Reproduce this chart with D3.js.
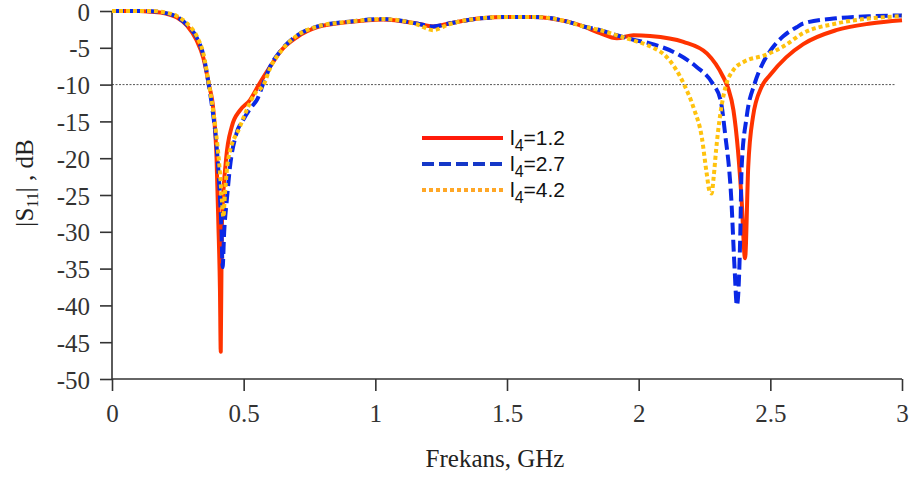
<!DOCTYPE html>
<html>
<head>
<meta charset="utf-8">
<script src="https://cdn.jsdelivr.net/npm/d3@7/dist/d3.min.js"></script>
<style>
  html, body { margin: 0; padding: 0; background: #fff; }
  svg { display: block; }
</style>
</head>
<body>
<svg id="chart" width="916" height="477"></svg>
<script>
// ---- data ----
const xTicks = [0, 0.5, 1, 1.5, 2, 2.5, 3];
const xTickLabels = ["0", "0.5", "1", "1.5", "2", "2.5", "3"];
const yTicks = [0, -5, -10, -15, -20, -25, -30, -35, -40, -45, -50];
const yTickLabels = ["0", "-5", "-10", "-15", "-20", "-25", "-30", "-35", "-40", "-45", "-50"];
const seriesNames = ["1.2", "2.7", "4.2"];

const freqRed = [0, 0.1, 0.15, 0.2, 0.247, 0.285, 0.32, 0.347, 0.368, 0.385, 0.397, 0.404, 0.41, 0.413, 0.417, 0.433, 0.455, 0.486, 0.524, 0.558, 0.60, 0.644, 0.70, 0.78, 0.9, 1.03, 1.157, 1.22, 1.28, 1.4, 1.5, 1.6, 1.73, 1.79, 1.853, 1.917, 1.98, 2.043, 2.17, 2.26, 2.32, 2.34, 2.36, 2.377, 2.391, 2.404, 2.416, 2.434, 2.467, 2.499, 2.56, 2.625, 2.75, 2.88, 3.0];
const s11Red  = [0, 0, -0.1, -0.3, -0.9, -2.0, -3.9, -6.4, -10, -13.5, -20, -29, -38, -46.3, -29.3, -20.2, -15.7, -13.5, -12.1, -10, -7.6, -5.3, -3.6, -2.2, -1.5, -1.15, -1.7, -2.1, -1.7, -1.0, -0.8, -0.8, -1.45, -2.1, -3.0, -3.7, -3.3, -3.4, -4.2, -5.8, -8.9, -10.5, -13.5, -18.9, -25.7, -33.6, -21.2, -14.4, -10.3, -8.7, -6.3, -4.5, -2.6, -1.7, -1.25];

const freqBlue = [0, 0.1, 0.15, 0.2, 0.247, 0.285, 0.323, 0.347, 0.365, 0.38, 0.395, 0.408, 0.416, 0.42, 0.426, 0.436, 0.448, 0.473, 0.498, 0.53, 0.55, 0.575, 0.60, 0.645, 0.70, 0.78, 0.9, 1.03, 1.157, 1.22, 1.28, 1.4, 1.5, 1.6, 1.73, 1.79, 1.853, 1.917, 1.98, 2.043, 2.145, 2.22, 2.28, 2.311, 2.328, 2.352, 2.364, 2.373, 2.386, 2.391, 2.41, 2.441, 2.47, 2.5, 2.55, 2.6, 2.625, 2.75, 2.88, 3.0];
const s11Blue  = [0, 0, -0.05, -0.25, -0.8, -1.9, -3.7, -6.0, -9.5, -13.0, -17.5, -24, -30, -34.8, -30, -25.7, -21.2, -16.6, -14.8, -13.0, -12.1, -9.8, -7.6, -5.2, -3.4, -2.1, -1.45, -1.1, -1.7, -2.1, -1.7, -1.0, -0.8, -0.8, -1.45, -2.1, -2.6, -3.3, -3.9, -4.4, -5.8, -7.6, -9.8, -12.1, -16.6, -25.7, -34.8, -40, -30.2, -21.2, -14.4, -9.8, -7.2, -5.4, -3.4, -2.2, -1.7, -1.0, -0.7, -0.6];

const freqGold = [0, 0.1, 0.15, 0.2, 0.247, 0.285, 0.323, 0.347, 0.366, 0.38, 0.395, 0.41, 0.418, 0.423, 0.429, 0.441, 0.486, 0.511, 0.543, 0.576, 0.60, 0.645, 0.70, 0.78, 0.9, 1.03, 1.157, 1.22, 1.28, 1.4, 1.5, 1.6, 1.73, 1.79, 1.853, 1.917, 1.98, 2.043, 2.11, 2.17, 2.21, 2.24, 2.258, 2.27, 2.277, 2.285, 2.294, 2.31, 2.33, 2.36, 2.4, 2.48, 2.55, 2.625, 2.75, 2.88, 3.0];
const s11Gold  = [0, 0, 0, -0.2, -0.7, -1.7, -3.5, -5.8, -9.5, -12.5, -16.5, -22, -26, -28, -24.8, -20.2, -15.7, -13.5, -11.2, -10, -7.8, -5.3, -3.4, -2.1, -1.45, -1.1, -1.8, -2.6, -1.8, -1.0, -0.8, -0.8, -1.45, -2.1, -2.6, -3.3, -4.0, -4.8, -6.4, -9.8, -13.3, -17.2, -22, -24.6, -24.8, -22.5, -18.9, -14, -10.3, -8.0, -6.9, -6.0, -4.8, -3.0, -1.7, -1.0, -0.7];

// ---- layout ----
const svg = d3.select("#chart");
const x = d3.scaleLinear().domain([0, 3]).range([112, 902]);
const y = d3.scaleLinear().domain([-50, 0]).range([379, 11]);

const serif = "'Liberation Serif', 'Times New Roman', serif";
const sans = "'Liberation Sans', Arial, sans-serif";
const axisColor = "#333";

// reference line at -10 dB
svg.append("line")
  .attr("x1", x(0)).attr("x2", x(2.975))
  .attr("y1", y(-10)).attr("y2", y(-10))
  .attr("stroke", "#555").attr("stroke-width", 1)
  .attr("stroke-dasharray", "2,1.5");

// axes
const yAxis = d3.axisLeft(y).tickValues(yTicks).tickSize(12).tickPadding(10)
  .tickFormat((d, i) => yTickLabels[i]);
const gy = svg.append("g").attr("transform", `translate(${x(0)},0)`).call(yAxis);
const xAxis = d3.axisBottom(x).tickValues(xTicks).tickSize(12).tickPadding(13)
  .tickFormat((d, i) => xTickLabels[i]);
const gx = svg.append("g").attr("transform", `translate(0,${y(-50)})`).call(xAxis);

[gx, gy].forEach(g => {
  g.select(".domain").attr("stroke", axisColor).attr("stroke-width", 1.6);
  g.selectAll(".tick line").attr("stroke", axisColor).attr("stroke-width", 1.6);
  g.selectAll(".tick text").attr("fill", "#333").style("font-family", serif).style("font-size", "25px");
});
gy.selectAll(".tick text").attr("dy", "0.36em");
gy.select(".domain").attr("d", `M0,${y(0)}V${y(-50)}`);
gx.select(".domain").attr("d", `M${x(0)},0H${x(3)}`);

// series lines
const line = d3.line().x(d => x(d[0])).y(d => y(d[1])).curve(d3.curveMonotoneX);
const series = [
  { f: freqRed,  v: s11Red,  color: "#ff3300", dash: null,   lw: 4 },
  { f: freqBlue, v: s11Blue, color: "#0a28e6", dash: "12,5", lw: 4 },
  { f: freqGold, v: s11Gold, color: "#ffc20e", dash: "4,3",  lw: 4 }
];
series.forEach(s => {
  svg.append("path")
    .datum(s.f.map((f, i) => [f, s.v[i]]))
    .attr("fill", "none")
    .attr("stroke", s.color)
    .attr("stroke-width", s.lw)
    .attr("stroke-linejoin", "round")
    .attr("stroke-dasharray", s.dash)
    .attr("d", line);
});

// legend
const legendColors = ["#ff1a0a", "#1538c8", "#ffa726"];
const legendDash = [null, "12,5", "4,3"];
const lg = svg.append("g");
seriesNames.forEach((name, i) => {
  const yy = 138 + i * 26;
  lg.append("line")
    .attr("x1", 422).attr("x2", 503).attr("y1", yy).attr("y2", yy)
    .attr("stroke", legendColors[i]).attr("stroke-width", 4)
    .attr("stroke-dasharray", legendDash[i]);
  const t = lg.append("text")
    .attr("x", 510).attr("y", yy + 7)
    .style("font-family", sans).style("font-size", "21px").attr("fill", "#111");
  t.append("tspan").text("l");
  t.append("tspan").attr("dy", 6).style("font-size", "16px").text("4");
  t.append("tspan").attr("dy", -6).text("=" + name);
});

// axis titles
svg.append("text")
  .attr("x", 495).attr("y", 467)
  .attr("text-anchor", "middle")
  .style("font-family", serif).style("font-size", "25px").attr("fill", "#222")
  .text("Frekans, GHz");

const yt = svg.append("text")
  .attr("transform", "translate(33,183) rotate(-90)")
  .attr("text-anchor", "middle")
  .style("font-family", serif).style("font-size", "25px").attr("fill", "#222");
yt.append("tspan").text("|S");
yt.append("tspan").attr("dy", 5).style("font-size", "16px").text("11");
yt.append("tspan").attr("dy", -5).text("| , dB");
</script>
</body>
</html>
